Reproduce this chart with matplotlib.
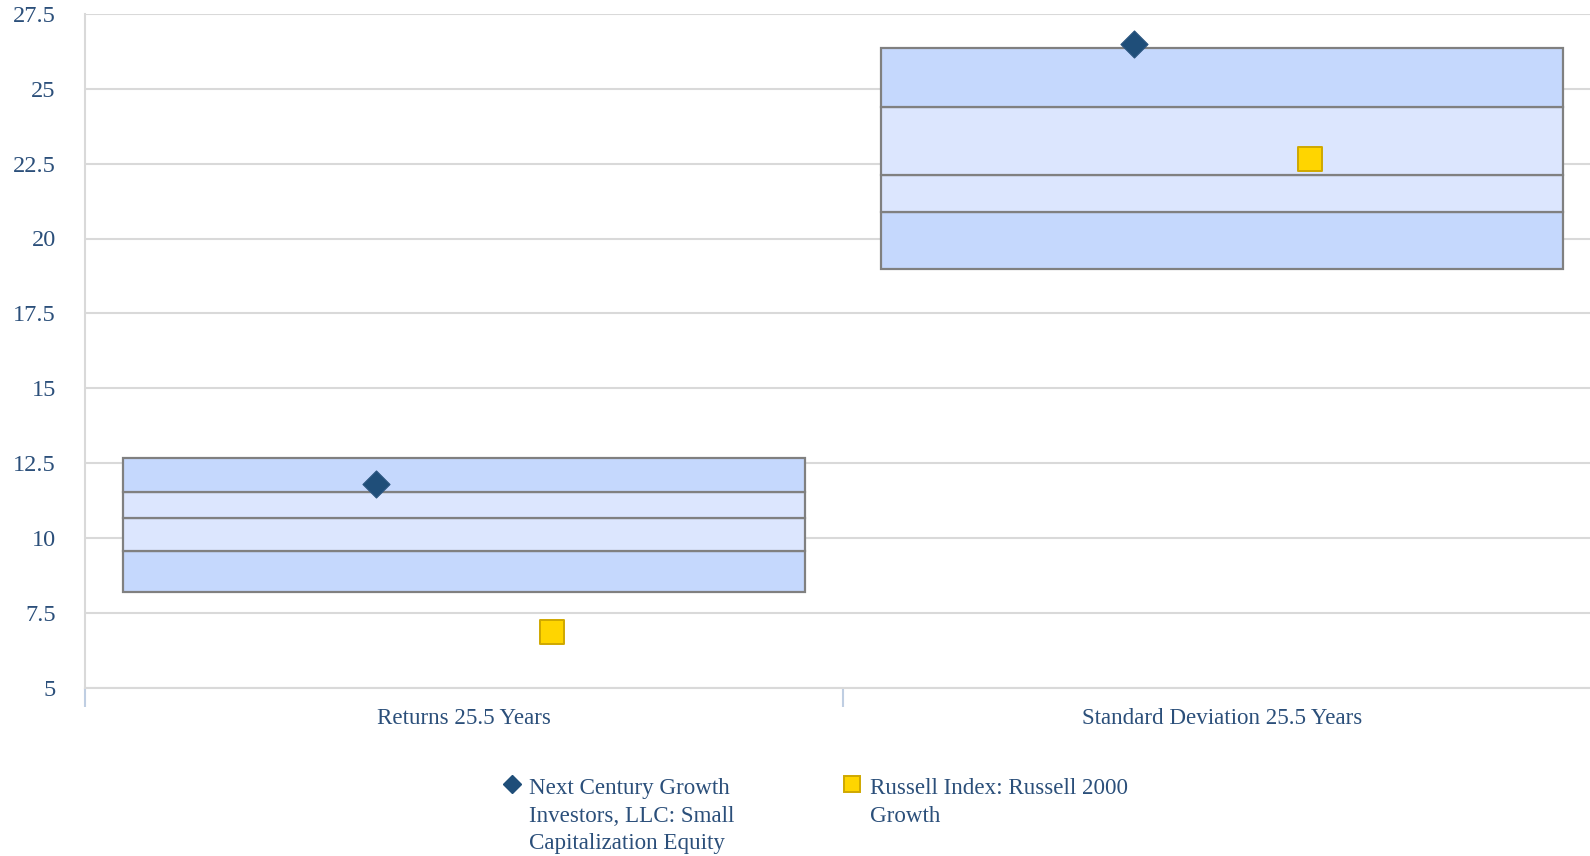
import numpy as np
import matplotlib.pyplot as plt
from matplotlib.lines import Line2D

plt.rcParams['font.family'] = ['Liberation Serif', 'DejaVu Serif']

categories = ['Returns 25.5 Years', 'Standard Deviation 25.5 Years']
# percentile band edges per category: 5th, 25th, median, 75th, 95th
p05 = [8.2, 18.99]
p25 = [9.57, 20.89]
p50 = [10.65, 22.13]
p75 = [11.53, 24.38]
p95 = [12.67, 26.38]
manager = [11.81, 26.49]
index = [6.85, 22.67]
yticks = [5, 7.5, 10, 12.5, 15, 17.5, 20, 22.5, 25, 27.5]
ytick_labels = ['5', '7.5', '10', '12.5', '15', '17.5', '20', '22.5', '25', '27.5']

txt_color = '#2B4F7A'
outer = '#C5D8FD'
inner = '#DCE6FE'
edge = '#808080'

fig = plt.figure(figsize=(15.9, 8.56), dpi=100)
ax = fig.add_axes([85 / 1590, 1 - 687.5 / 856, 1516 / 1590, (687.5 - 14) / 856])

x = np.arange(len(categories))
w = 0.9
bands = [(p05, p25, outer), (p25, p50, inner), (p50, p75, inner), (p75, p95, outer)]
for lo, hi, col in bands:
    ax.bar(x, np.array(hi) - np.array(lo), bottom=lo, width=w, color=col,
           edgecolor=edge, linewidth=1.6, zorder=2)

ax.scatter(x - 0.116, manager, marker='D', s=190, color='#1F4E79',
           edgecolor='#2A5580', linewidth=0.8, zorder=4)
ax.scatter(x + 0.116, index, marker='s', s=300, color='#FFD500',
           edgecolor='#CFA800', linewidth=1.4, zorder=4)

ax.set_xlim(-0.5, 1.5)
ax.set_ylim(5, 27.5)
ax.set_yticks(yticks)
ax.set_yticklabels(ytick_labels)
ax.grid(axis='y', color='#D9D9D9', linewidth=1.5, zorder=0)
ax.set_axisbelow(True)

ax.set_xticks([-0.5, 0.5, 1.5])
ax.set_xticklabels([])
ax.set_xticks(x, minor=True)
ax.set_xticklabels(categories, minor=True)
ax.tick_params(axis='x', which='major', length=13.5, width=1.5, color='#BFCEE2')
ax.tick_params(axis='x', which='minor', length=0, pad=14.5, labelsize=16.6,
               labelcolor=txt_color)
ax.tick_params(axis='y', length=0, pad=21, labelsize=17.5, labelcolor=txt_color)

for s in ['top', 'right']:
    ax.spines[s].set_visible(False)
ax.spines['left'].set_color('#D9D9D9')
ax.spines['left'].set_linewidth(1.5)
ax.spines['bottom'].set_color('#D9D9D9')
ax.spines['bottom'].set_linewidth(1.5)

# legend drawn by hand so markers align with the first text line
fig.add_artist(Line2D([512 / 1590], [1 - 784 / 856], marker='D', markersize=9,
                      color='#1F4E79', transform=fig.transFigure))
fig.text(529 / 1590, 1 - 778 / 856,
         'Next Century Growth\nInvestors, LLC: Small\nCapitalization Equity',
         fontsize=16.6, color=txt_color, va='top', ha='left', linespacing=1.42,
         transform=fig.transFigure)
fig.add_artist(Line2D([852 / 1590], [1 - 784 / 856], marker='s', markersize=11,
                      color='#FFD500', markeredgecolor='#CFA800', markeredgewidth=1.4,
                      transform=fig.transFigure))
fig.text(870 / 1590, 1 - 778 / 856, 'Russell Index: Russell 2000\nGrowth',
         fontsize=16.6, color=txt_color, va='top', ha='left', linespacing=1.42,
         transform=fig.transFigure)

fig.savefig('out.png', dpi=100)
